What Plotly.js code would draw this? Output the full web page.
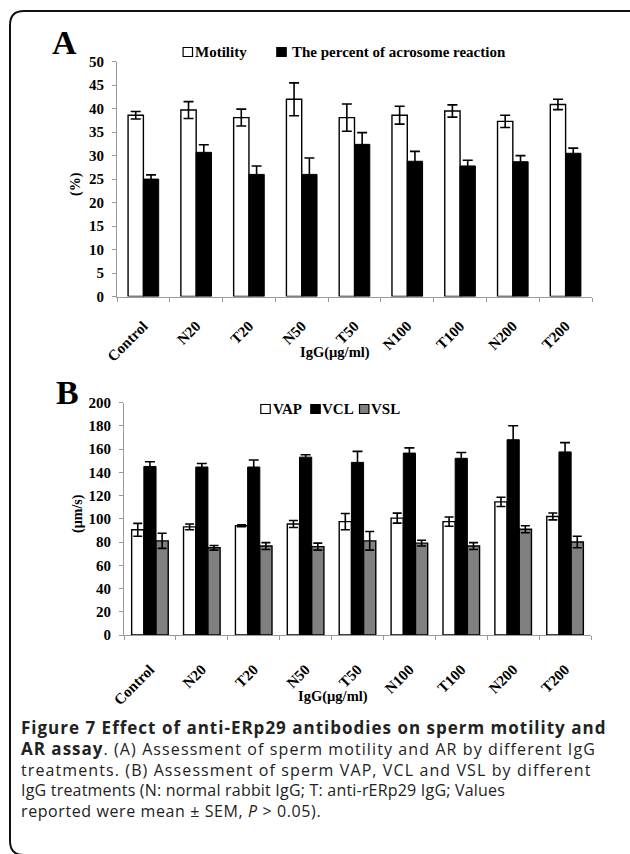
<!DOCTYPE html>
<html>
<head>
<meta charset="utf-8">
<script src="https://cdn.plot.ly/plotly-3.0.1.min.js"></script>
<style>
  html, body { margin: 0; padding: 0; background: #ffffff; }
  #chart { width: 630px; height: 854px; }
</style>
</head>
<body>
<div id="chart"></div>
<script>
// ---- Data ----
const categories = ['Control', 'N20', 'T20', 'N50', 'T50', 'N100', 'T100', 'N200', 'T200'];

// Panel A (%)
const motility      = [38.6, 39.7, 38.1, 42.0, 38.1, 38.6, 39.5, 37.3, 40.9];
const motilityErr   = [0.8, 1.8, 1.8, 3.5, 2.9, 1.9, 1.3, 1.3, 1.1];
const acrosome      = [25.0, 30.7, 26.0, 26.0, 32.4, 28.8, 27.8, 28.7, 30.5];
const acrosomeErr   = [0.9, 1.6, 1.8, 3.5, 2.5, 2.1, 1.2, 1.3, 1.1];

// Panel B (µm/s)
const vap    = [90.5, 93.0, 94.0, 95.5, 97.5, 100.5, 97.5, 114.5, 102.0];
const vapErr = [5.5, 2.5, 0.8, 3.0, 7.0, 4.3, 4.0, 4.0, 3.0];
const vcl    = [145.0, 144.5, 144.5, 153.0, 148.5, 156.5, 152.0, 168.0, 157.5];
const vclErr = [4.0, 3.0, 6.0, 2.0, 9.5, 4.5, 5.0, 12.0, 8.0];
const vsl    = [81.0, 75.0, 76.5, 76.0, 81.0, 79.0, 76.5, 91.0, 80.0];
const vslErr = [6.5, 2.0, 3.0, 3.0, 8.0, 2.5, 3.0, 3.0, 5.0];

const seriesNamesA = ['Motility', 'The percent of acrosome reaction'];
const seriesNamesB = ['VAP', 'VCL', 'VSL'];
const colorsA = ['#ffffff', '#000000'];
const colorsB = ['#ffffff', '#000000', '#808080'];
const yTitleA = '(%)';
const yTitleB = '(µm/s)';
const xTitle = 'IgG(µg/ml)';

// ---- Helpers (pixel -> paper) ----
const W = 630, H = 854;
const px = x => x / W;
const py = y => 1 - y / H;

const serif = 'Liberation Serif, Times New Roman, serif';
const tickFont = { family: serif, size: 15, color: '#000', weight: 'bold' };
const axisGray = '#9a9a9a';

function errObj(arr, w) {
  return { type: 'data', array: arr, visible: true, color: '#000', thickness: 1.6, width: w };
}

const wA = 0.29, wB = 0.235;

const traces = [
  { type: 'bar', x: categories, y: motility, name: seriesNamesA[0], xaxis: 'x', yaxis: 'y',
    width: wA, offset: -wA, marker: { color: colorsA[0], line: { color: '#000', width: 1.4 } },
    error_y: errObj(motilityErr, 5) },
  { type: 'bar', x: categories, y: acrosome, name: seriesNamesA[1], xaxis: 'x', yaxis: 'y',
    width: wA, offset: 0, marker: { color: colorsA[1], line: { color: '#000', width: 1 } },
    error_y: errObj(acrosomeErr, 5) },
  { type: 'bar', x: categories, y: vap, name: seriesNamesB[0], xaxis: 'x2', yaxis: 'y2',
    width: wB, offset: -1.5 * wB, marker: { color: colorsB[0], line: { color: '#000', width: 1.4 } },
    error_y: errObj(vapErr, 4.5) },
  { type: 'bar', x: categories, y: vcl, name: seriesNamesB[1], xaxis: 'x2', yaxis: 'y2',
    width: wB, offset: -0.5 * wB, marker: { color: colorsB[1], line: { color: '#000', width: 1 } },
    error_y: errObj(vclErr, 5) },
  { type: 'bar', x: categories, y: vsl, name: seriesNamesB[2], xaxis: 'x2', yaxis: 'y2',
    width: wB, offset: 0.5 * wB, marker: { color: colorsB[2], line: { color: '#000', width: 1.4 } },
    error_y: errObj(vslErr, 4.5) }
];

function xAxisCfg(domain, anchor, standoff) {
  return {
    domain: domain, anchor: anchor, type: 'category', range: [-0.5, 8.5],
    showline: true, linecolor: axisGray, linewidth: 1,
    ticks: 'outside', tickson: 'boundaries', ticklen: 4, tickcolor: axisGray, tickwidth: 1,
    tickangle: -45, tickfont: tickFont, ticklabelstandoff: standoff,
    showgrid: false, zeroline: false, fixedrange: true
  };
}
function yAxisCfg(domain, anchor, range, dtick) {
  return {
    domain: domain, anchor: anchor, range: range, dtick: dtick,
    showline: true, linecolor: axisGray, linewidth: 1,
    ticks: 'outside', ticklen: 4, tickcolor: axisGray, tickwidth: 1,
    tickfont: tickFont, ticklabelstandoff: 5, showgrid: false, zeroline: false, fixedrange: true
  };
}

// Rounded frame around the figure (decoration)
const fx0 = px(10), fy0 = py(11), fx1 = px(660), fyb = py(855);
const rx = 14 / W, ry = 14 / H;
const framePath = `M ${fx0 + rx},${fyb} Q ${fx0},${fyb} ${fx0},${fyb + ry} L ${fx0},${fy0 - ry}`
  + ` Q ${fx0},${fy0} ${fx0 + rx},${fy0} L ${fx1},${fy0}`;

const shapes = [
  { type: 'path', xref: 'paper', yref: 'paper', path: framePath,
    line: { color: '#111', width: 2 }, fillcolor: 'rgba(0,0,0,0)' }
];

// Legend keys (custom, tight like the original)
function keyBox(cx, cy, fill) {
  shapes.push({ type: 'rect', xref: 'paper', yref: 'paper',
    x0: px(cx - 4.7), x1: px(cx + 4.7), y0: py(cy + 4.5), y1: py(cy - 4.5),
    fillcolor: fill, line: { color: '#000', width: 1.2 } });
}

const annotations = [];
function addText(t, x, y, font, xanchor, yanchor, extra) {
  annotations.push(Object.assign({ text: t, x: px(x), y: py(y), xref: 'paper', yref: 'paper',
    xanchor: xanchor, yanchor: yanchor, showarrow: false, font: font }, extra || {}));
}

const legendFont = { family: serif, size: 15, color: '#000' };
// Panel A legend
const legA = { y: 52, keys: [187.8, 281.5], texts: [193, 290] };
seriesNamesA.forEach((n, i) => { keyBox(legA.keys[i], legA.y, colorsA[i]);
  addText('<b>' + n + '</b>', legA.texts[i], legA.y, legendFont, 'left', 'middle'); });
// Panel B legend
const legB = { y: 409, keys: [265.5, 315.5, 364.2], texts: [271, 320, 369] };
seriesNamesB.forEach((n, i) => { keyBox(legB.keys[i], legB.y, colorsB[i]);
  addText('<b>' + n + '</b>', legB.texts[i], legB.y, legendFont, 'left', 'middle'); });

const bigFont = { family: serif, size: 34, color: '#000' };
const titleFont = { family: serif, size: 14, color: '#000' };
addText('<b>A</b>', 64, 42, bigFont, 'center', 'middle');
addText('<b>B</b>', 67, 392, bigFont, 'center', 'middle');
addText('<b>' + yTitleA + '</b>', 76, 184, titleFont, 'center', 'middle', { textangle: -90 });
addText('<b>' + yTitleB + '</b>', 78, 514, titleFont, 'center', 'middle', { textangle: -90 });
addText('<b>' + xTitle + '</b>', 335, 352, { family: serif, size: 14.5, color: '#000' }, 'center', 'middle');
addText('<b>' + xTitle + '</b>', 333, 696, { family: serif, size: 14.5, color: '#000' }, 'center', 'middle');

// Caption (one text block)
const B0 = '<span style="font-size:17px;letter-spacing:1px"><b>';
const B1 = '</b></span>';
const R = (t, ls) => '<span style="letter-spacing:' + ls + 'px">' + t + '</span>';
const captionLines = [
  B0 + 'Figure 7 Effect of anti-ERp29 antibodies on sperm motility and' + B1,
  B0 + 'AR assay' + B1 + R('. (A) Assessment of sperm motility and AR by different IgG', 1.1),
  R('treatments. (B) Assessment of sperm VAP, VCL and VSL by different', 1.1),
  R('IgG treatments (N: normal rabbit IgG; T: anti-rERp29 IgG; Values', 0.2),
  R('reported were mean ± SEM, <i>P</i> &gt; 0.05).', 0.6)
];
addText(captionLines.join('<br>'), 19, 714, { family: 'Open Sans, sans-serif', size: 16, color: '#222' },
  'left', 'top', { align: 'left' });

const layout = {
  width: W, height: H,
  margin: { l: 0, r: 0, t: 0, b: 0 },
  paper_bgcolor: '#ffffff', plot_bgcolor: '#ffffff',
  barmode: 'overlay',
  showlegend: false,
  xaxis: xAxisCfg([px(117), px(592)], 'y', 14),
  yaxis: yAxisCfg([py(296.5), py(61.7)], 'x', [0, 50], 5),
  xaxis2: xAxisCfg([px(124), px(591)], 'y2', 19),
  yaxis2: yAxisCfg([py(635), py(402.5)], 'x2', [0, 200], 20),
  annotations: annotations,
  shapes: shapes
};

Plotly.newPlot('chart', traces, layout, { displayModeBar: false, staticPlot: true });
</script>
</body>
</html>
